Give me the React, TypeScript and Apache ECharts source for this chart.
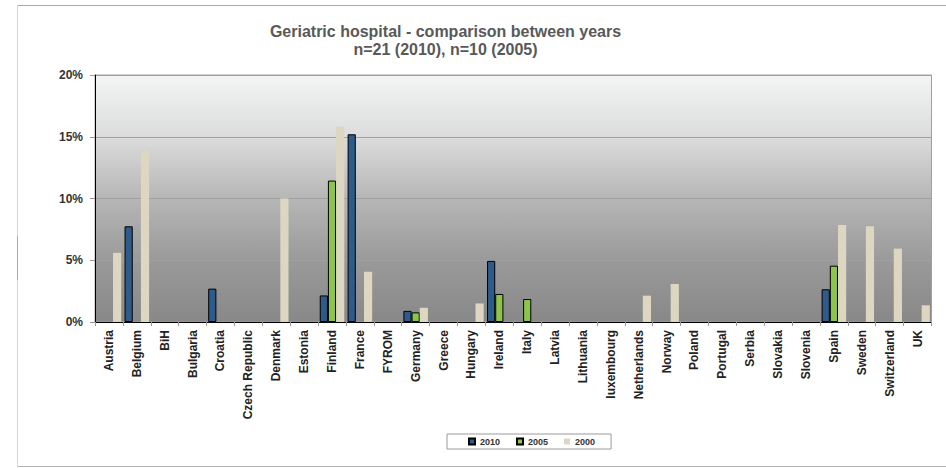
import React, { useEffect, useRef } from "react";
import * as echarts from "echarts";

const categories = [
  "Austria", "Belgium", "BiH", "Bulgaria", "Croatia", "Czech Republic", "Denmark", "Estonia",
  "Finland", "France", "FYROM", "Germany", "Greece", "Hungary", "Ireland", "Italy", "Latvia",
  "Lithuania", "luxembourg", "Netherlands", "Norway", "Poland", "Portugal", "Serbia", "Slovakia",
  "Slovenia", "Spain", "Sweden", "Switzerland", "UK",
];

const values2010 = [
  null, 7.75, null, null, 2.7, null, null, null, 2.15, 15.2, null, 0.9, null, null, 4.95, null, null,
  null, null, null, null, null, null, null, null, null, 2.65, null, null, null,
];
const values2005 = [
  null, null, null, null, null, null, null, null, 11.45, null, null, 0.78, null, null, 2.27, 1.86, null,
  null, null, null, null, null, null, null, null, null, 4.56, null, null, null,
];
const values2000 = [
  5.6, 13.9, null, null, null, null, 10.0, null, 15.8, 4.07, null, 1.15, null, 1.5, null, null, null,
  null, null, 2.13, 3.08, null, null, null, null, null, 7.85, 7.75, 5.94, 1.35,
];

const yTicks = { min: 0, max: 20, interval: 5 };
const titleLines = ["Geriatric hospital - comparison between years", "n=21 (2010), n=10 (2005)"];
const seriesNames = ["2010", "2005", "2000"];

const FONT = "'Liberation Sans', Arial, sans-serif";

export default function App() {
  const ref = useRef<HTMLDivElement>(null);
  useEffect(() => {
    if (!ref.current) return;
    const chart = echarts.init(ref.current, undefined, { renderer: "svg" });
    chart.setOption({
      animation: false,
      textStyle: { fontFamily: FONT },
      graphic: [
        {
          type: "line",
          z: -10,
          shape: { x1: 17.5, y1: 5.5, x2: 946, y2: 5.5 },
          style: { stroke: "#aaaaaa", lineWidth: 1 },
        },
        {
          type: "line",
          z: -10,
          shape: { x1: 17.5, y1: 5.5, x2: 17.5, y2: 466.5 },
          style: { stroke: "#d6d6d6", lineWidth: 1 },
        },
        {
          type: "line",
          z: -9,
          shape: { x1: 17.5, y1: 236, x2: 17.5, y2: 280 },
          style: { stroke: "#aaaaaa", lineWidth: 1 },
        },
        {
          type: "line",
          z: -10,
          shape: { x1: 17.5, y1: 466.5, x2: 946, y2: 466.5 },
          style: { stroke: "#b4b4b4", lineWidth: 1 },
        },
        {
          type: "text",
          x: 445.5,
          y: 31,
          style: {
            text: titleLines[0],
            font: `bold 16px ${FONT}`,
            fill: "#595959",
            align: "center",
            verticalAlign: "middle",
            textAlign: "center",
            textVerticalAlign: "middle",
          },
        },
        {
          type: "text",
          x: 445.5,
          y: 49,
          style: {
            text: titleLines[1],
            font: `bold 16px ${FONT}`,
            fill: "#595959",
            align: "center",
            verticalAlign: "middle",
            textAlign: "center",
            textVerticalAlign: "middle",
          },
        },
      ],
      legend: {
        data: seriesNames,
        left: 447,
        top: 434,
        orient: "horizontal",
        itemWidth: 6,
        itemHeight: 6,
        itemGap: 16,
        padding: [3, 16, 3, 21],
        borderColor: "#9a9a9a",
        borderWidth: 1,
        backgroundColor: "#ffffff",
        icon: "rect",
        textStyle: { fontSize: 9, fontWeight: "bold", color: "#333", fontFamily: FONT },
      },
      grid: {
        left: 95,
        right: 14.5,
        top: 75,
        bottom: 146,
        show: true,
        backgroundColor: new echarts.graphic.LinearGradient(0, 0, 0, 1, [
          { offset: 0, color: "#f3f5f5" },
          { offset: 0.25, color: "#dcdcdc" },
          { offset: 0.5, color: "#b6b6b6" },
          { offset: 0.75, color: "#9a9a9a" },
          { offset: 1, color: "#888888" },
        ]),
        borderColor: "#a0a0a0",
        borderWidth: 1,
      },
      xAxis: {
        type: "category",
        data: categories,
        axisLine: { show: true, lineStyle: { color: "#000", width: 1 } },
        axisTick: { show: true, interval: 0, length: 4, lineStyle: { color: "#999" } },
        axisLabel: {
          interval: 0,
          rotate: 90,
          margin: 8,
          fontSize: 12,
          fontWeight: "bold",
          color: "#222",
          fontFamily: FONT,
        },
        splitLine: { show: false },
      },
      yAxis: {
        type: "value",
        min: yTicks.min,
        max: yTicks.max,
        interval: yTicks.interval,
        axisLine: { show: true, lineStyle: { color: "#000", width: 1 } },
        axisTick: { show: true, length: 5, lineStyle: { color: "#999" } },
        axisLabel: {
          formatter: "{value}%",
          margin: 12,
          fontSize: 12,
          fontWeight: "bold",
          color: "#333",
          fontFamily: FONT,
        },
        splitLine: { show: true, lineStyle: { color: "#a0a0a0", width: 1 } },
      },
      series: [
        {
          name: seriesNames[0],
          type: "bar",
          data: values2010,
          barGap: "0%",
          barCategoryGap: "12%",
          itemStyle: { color: "#2e5b8a", borderColor: "#000", borderWidth: 1 },
        },
        {
          name: seriesNames[1],
          type: "bar",
          data: values2005,
          barGap: "0%",
          barCategoryGap: "12%",
          itemStyle: { color: "#8cc44c", borderColor: "#000", borderWidth: 1 },
        },
        {
          name: seriesNames[2],
          type: "bar",
          data: values2000,
          barGap: "0%",
          barCategoryGap: "12%",
          itemStyle: { color: "#ddd7c2", borderWidth: 0 },
        },
      ],
    });
    return () => chart.dispose();
  }, []);
  return <div ref={ref} style={{ width: 946, height: 468, position: "absolute", left: 0, top: 0 }} />;
}
